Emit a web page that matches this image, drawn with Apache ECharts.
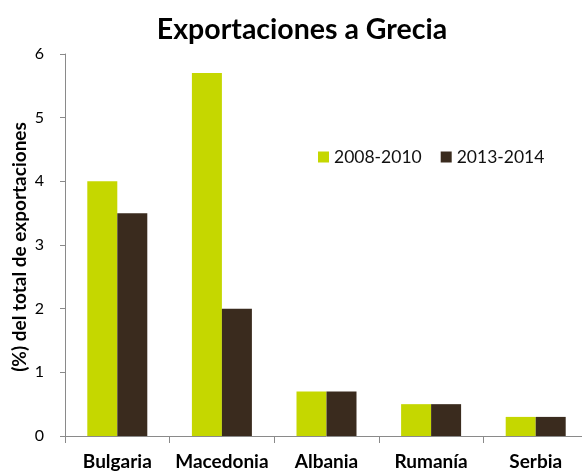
<!DOCTYPE html>
<html>
<head>
<meta charset="utf-8">
<script src="https://cdn.jsdelivr.net/npm/echarts@6/dist/echarts.min.js"></script>
<style>
  html, body { margin: 0; padding: 0; background: #fff; overflow: hidden; }
  /* canvas runs a little past the right edge so the last category is cut off */
  #chart { width: 590px; height: 471px; }
</style>
</head>
<body>
<div id="chart"></div>
<script>
// Export shares to Greece, by country and period (% of total exports)
const countries = ['Bulgaria', 'Macedonia', 'Albania', 'Rumanía', 'Serbia'];
const period1Name = '2008-2010';
const period2Name = '2013-2014';
const period1 = [4.0, 5.7, 0.7, 0.5, 0.3];
const period2 = [3.5, 2.0, 0.7, 0.5, 0.3];
const yTicks = [0, 1, 2, 3, 4, 5, 6];

const FONT = 'Lato';
const chart = echarts.init(document.getElementById('chart'), null, { renderer: 'canvas' });

chart.setOption({
  animation: false,
  backgroundColor: '#ffffff',
  textStyle: { fontFamily: FONT },
  title: {
    text: 'Exportaciones a Grecia',
    left: 297,
    textAlign: 'center',
    top: 10,
    textStyle: { fontFamily: FONT, fontWeight: 'bold', fontSize: 28.5, color: '#000' }
  },
  legend: {
    left: 313,
    top: 143,
    itemWidth: 11,
    itemHeight: 11,
    itemGap: 19,
    icon: 'rect',
    textStyle: { fontFamily: FONT, fontSize: 17.5, color: '#111' },
    data: [period1Name, period2Name]
  },
  grid: { left: 65, width: 523, top: 54, bottom: 35, containLabel: false },
  xAxis: {
    type: 'category',
    data: countries,
    axisLine: { show: true, lineStyle: { color: '#8a8a8a', width: 1 } },
    axisTick: { show: true, length: 7, lineStyle: { color: '#8a8a8a' } },
    axisLabel: { interval: 0, margin: 16, fontFamily: FONT, fontWeight: 'bold', fontSize: 19, color: '#000' }
  },
  yAxis: {
    type: 'value',
    min: yTicks[0],
    max: yTicks[yTicks.length - 1],
    interval: 1,
    splitLine: { show: false },
    axisLine: { show: true, lineStyle: { color: '#8a8a8a', width: 1 } },
    axisTick: { show: true, length: 5, lineStyle: { color: '#8a8a8a' } },
    axisLabel: { margin: 21, fontFamily: FONT, fontSize: 16, color: '#000' }
  },
  graphic: [{
    type: 'text',
    x: 20,
    y: 247,
    rotation: Math.PI / 2,
    style: {
      text: '(%) del total de exportaciones',
      fontFamily: FONT,
      fontWeight: 'bold',
      fontSize: 19,
      fill: '#000',
      align: 'center',
      verticalAlign: 'middle'
    }
  }],
  series: [
    {
      name: period1Name,
      type: 'bar',
      data: period1,
      barWidth: 30,
      barGap: '0%',
      itemStyle: { color: '#c5d700' }
    },
    {
      name: period2Name,
      type: 'bar',
      data: period2,
      barWidth: 30,
      barGap: '0%',
      itemStyle: { color: '#3a2b1e' }
    }
  ]
});
</script>
</body>
</html>
